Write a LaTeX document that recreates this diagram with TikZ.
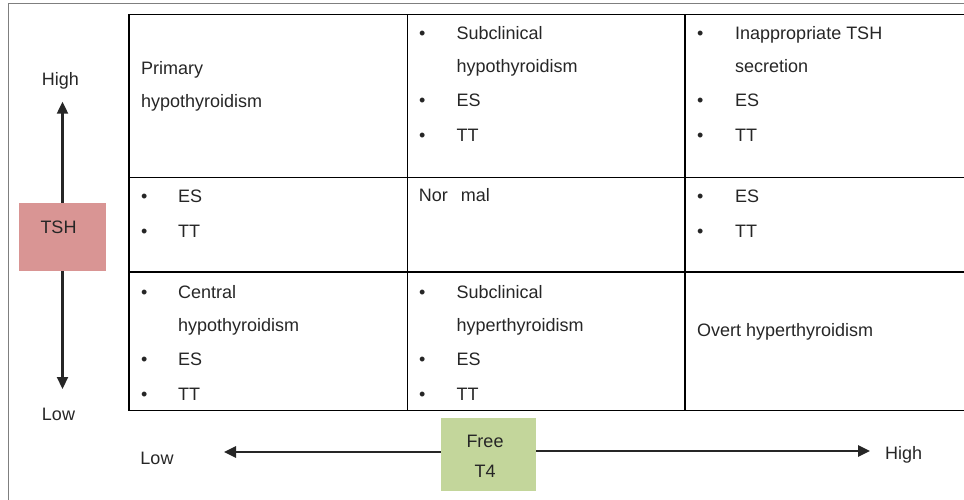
\documentclass[tikz,border=0pt]{standalone}
\usepackage{fontspec}
\setmainfont{Liberation Sans}
\usetikzlibrary{arrows.meta}
\definecolor{tshred}{HTML}{D99594}
\definecolor{tfourgreen}{HTML}{C3D69B}
\definecolor{txt}{HTML}{262626}
\definecolor{frame}{HTML}{7F7F7F}
\tikzset{
  t/.style={anchor=base west,inner sep=0pt,text=txt,font=\fontsize{18}{20}\selectfont},
  tc/.style={anchor=base,inner sep=0pt,text=txt,font=\fontsize{18}{20}\selectfont},
  grid/.style={line width=1.3pt,black},
  axis/.style={line width=2.2pt,draw=txt,-{Triangle[length=12pt,width=11pt]}},
  boxfill/.style={draw=none,minimum width=87pt,minimum height=68pt,inner sep=0pt}
}
\newcommand{\bul}[3]{\node[t] at (#1,#2) {•}; \node[t] at (#1+37.5,#2) {#3};}
\begin{document}
\begin{tikzpicture}[x=1pt,y=-1pt]
\useasboundingbox (0,0) rectangle (964,500);
% outer frame
\draw[frame,line width=1.6pt] (8.5,500) -- (8.5,3.5) -- (964,3.5);
% table
\draw[grid] (129,14.5) -- (964,14.5);
\draw[grid] (129,177.5) -- (964,177.5);
\draw[grid] (129,272) -- (964,272);
\draw[grid] (129,410.5) -- (964,410.5);
\draw[grid] (129,14.5) -- (129,410.5);
\draw[grid] (407.5,14.5) -- (407.5,410.5);
\draw[grid] (685,14.5) -- (685,410.5);
% row 1
\node[t] (c11a) at (141,75) {Primary};
\node[t] (c11b) at (141,107.5) {hypothyroidism};
\node[t] (c12a) at (419,40) {•};
\node[t] (c12b) at (456.5,40) {Subclinical};
\node[t] (c12c) at (456.5,73) {hypothyroidism};
\node[t] (c12d) at (419,107) {•};
\node[t] (c12e) at (456.5,107) {ES};
\node[t] (c12f) at (419,142) {•};
\node[t] (c12g) at (456.5,142) {TT};
\node[t] (c13a) at (697,40) {•};
\node[t] (c13b) at (735,40) {Inappropriate TSH};
\node[t] (c13c) at (735,73) {secretion};
\node[t] (c13d) at (697,107) {•};
\node[t] (c13e) at (735,107) {ES};
\node[t] (c13f) at (697,142) {•};
\node[t] (c13g) at (735,142) {TT};
% row 2
\node[t] (c21a) at (141,202) {•};
\node[t] (c21b) at (178,202) {ES};
\node[t] (c21c) at (141,237) {•};
\node[t] (c21d) at (178,237) {TT};
\node[t] (c22a) at (418.7,201) {Nor\hspace{13pt}mal};
\node[t] (c23a) at (697,202) {•};
\node[t] (c23b) at (735,202) {ES};
\node[t] (c23c) at (697,237) {•};
\node[t] (c23d) at (735,237) {TT};
% row 3
\node[t] (c31a) at (141,298) {•};
\node[t] (c31b) at (178,298) {Central};
\node[t] (c31c) at (178,331) {hypothyroidism};
\node[t] (c31d) at (141,365) {•};
\node[t] (c31e) at (178,365) {ES};
\node[t] (c31f) at (141,400) {•};
\node[t] (c31g) at (178,400) {TT};
\node[t] (c32a) at (419,298) {•};
\node[t] (c32b) at (456.5,298) {Subclinical};
\node[t] (c32c) at (456.5,331) {hyperthyroidism};
\node[t] (c32d) at (419,365) {•};
\node[t] (c32e) at (456.5,365) {ES};
\node[t] (c32f) at (419,400) {•};
\node[t] (c32g) at (456.5,400) {TT};
\node[t] (c33a) at (697,336) {Overt hyperthyroidism};
% TSH axis
\node[boxfill,fill=tshred] (tsh) at (62.5,237) {};
\node[tc] (tshl) at (58.5,233) {TSH};
\coordinate (tshtop) at (62.5,101.7);
\coordinate (tshbot) at (62.5,389);
\draw[axis] (tsh.north) -- (tshtop);
\draw[axis] (tsh.south) -- (tshbot);
\node[tc] (high1) at (60.5,86) {High};
\node[tc] (low1) at (58.5,420) {Low};
% Free T4 axis
\node[boxfill,fill=tfourgreen,minimum width=95pt,minimum height=73pt] (ft4) at (488.5,454.5) {};
\node[tc] (ft4a) at (485,447) {Free};
\node[tc] (ft4b) at (485,477) {T4};
\coordinate (ftleft) at (224,452);
\coordinate (ftright) at (870,451);
\draw[axis,line width=2.6pt] (ft4.west |- ftleft) -- (ftleft);
\draw[axis,line width=2.6pt] (ft4.east |- ftright) -- (ftright);
\node[tc] (low2) at (157,464) {Low};
\node[t] (high2) at (885,459) {High};
\end{tikzpicture}
\end{document}
